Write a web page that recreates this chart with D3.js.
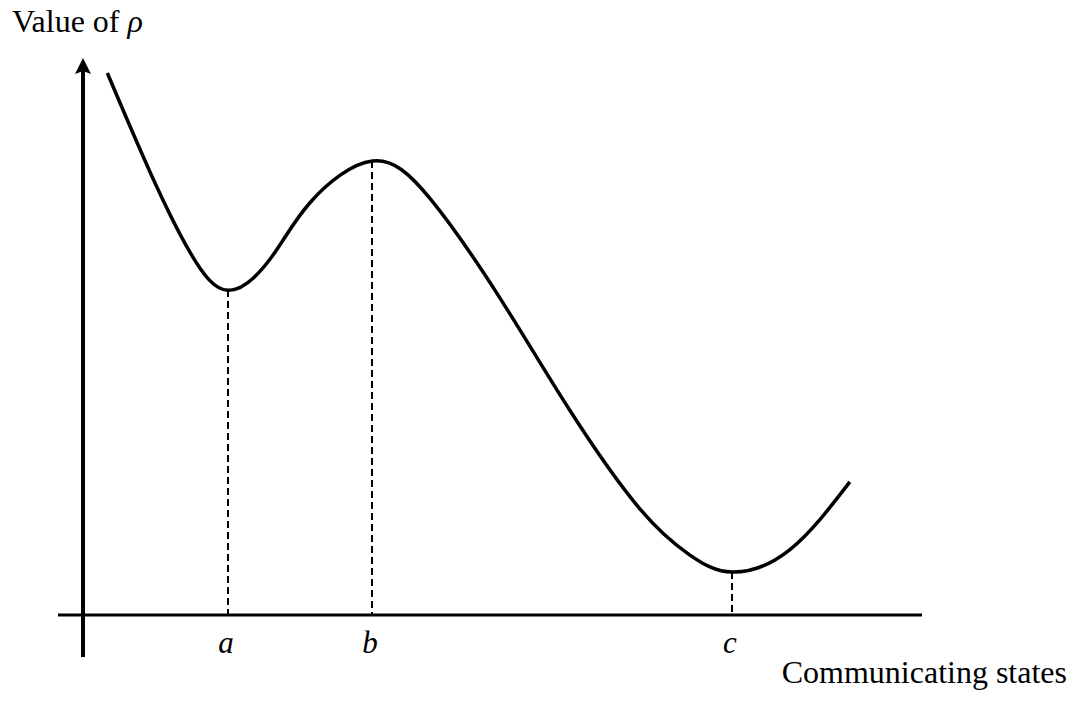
<!DOCTYPE html>
<html>
<head>
<meta charset="utf-8">
<script src="https://cdn.jsdelivr.net/npm/d3@7"></script>
<style>
  body { margin: 0; background: #fff; }
  svg { display: block; }
  text { font-family: "Liberation Serif", "Times New Roman", serif; fill: #000; }
</style>
</head>
<body>
<div id="chart"></div>
<script>
// curve (state, rho), arbitrary units
var stateX = [0.29, 0.80, 1.28, 1.73, 2.23, 2.71, 3.45, 4.14, 4.97, 5.80, 6.64, 7.23, 7.74, 8.43, 9.14];
var rhoY = [9.73, 7.95, 6.50, 5.83, 6.39, 7.41, 8.15, 7.47, 5.69, 3.68, 1.90, 1.08, 0.77, 1.18, 2.39];
// marked extrema
var markLabels = ["a", "b", "c"];
var markX = [1.73, 3.45, 7.74];
var markY = [5.83, 8.15, 0.77];

var width = 1072, height = 702;
var svg = d3.select("#chart").append("svg")
    .attr("width", width)
    .attr("height", height);

var x = d3.scaleLinear().domain([0, 10]).range([83, 922]);
var y = d3.scaleLinear().domain([0, 10]).range([615, 58]);

var pts = stateX.map(function (d, i) { return { x: d, y: rhoY[i] }; });

// x axis (plain line, slightly past the origin)
svg.append("line")
    .attr("x1", x(0) - 25).attr("x2", x(10))
    .attr("y1", y(0)).attr("y2", y(0))
    .attr("stroke", "#000").attr("stroke-width", 3);

// y axis with arrow
svg.append("line")
    .attr("x1", x(0)).attr("x2", x(0))
    .attr("y1", y(0) + 42).attr("y2", y(10) + 10)
    .attr("stroke", "#000").attr("stroke-width", 4);
var tip = y(10);
svg.append("path")
    .attr("d", "M" + x(0) + "," + tip +
        "L" + (x(0) + 8) + "," + (tip + 16) +
        "L" + x(0) + "," + (tip + 13) +
        "L" + (x(0) - 8) + "," + (tip + 16) + "Z")
    .attr("fill", "#000");

// dashed drop lines
markX.forEach(function (mx, i) {
    var px = Math.round(x(mx));
    svg.append("line")
        .attr("x1", px).attr("x2", px)
        .attr("y1", y(markY[i])).attr("y2", y(0))
        .attr("stroke", "#000").attr("stroke-width", 2)
        .attr("stroke-dasharray", "7,4")
        .attr("shape-rendering", "crispEdges");
    svg.append("text")
        .attr("x", px - 2).attr("y", 653)
        .attr("text-anchor", "middle")
        .attr("font-size", 31)
        .attr("font-style", "italic")
        .text(markLabels[i]);
});

var line = d3.line()
    .x(function (d) { return x(d.x); })
    .y(function (d) { return y(d.y); })
    .curve(d3.curveNatural);

svg.append("path")
    .attr("d", line(pts))
    .attr("fill", "none")
    .attr("stroke", "#000")
    .attr("stroke-width", 3.5);

// axis titles
var yt = svg.append("text")
    .attr("x", 12).attr("y", 32)
    .attr("font-size", 32);
yt.append("tspan").text("Value of ");
yt.append("tspan").attr("font-style", "italic").text("ρ");

svg.append("text")
    .attr("x", 1067).attr("y", 683)
    .attr("text-anchor", "end")
    .attr("font-size", 32)
    .text("Communicating states");
</script>
</body>
</html>
